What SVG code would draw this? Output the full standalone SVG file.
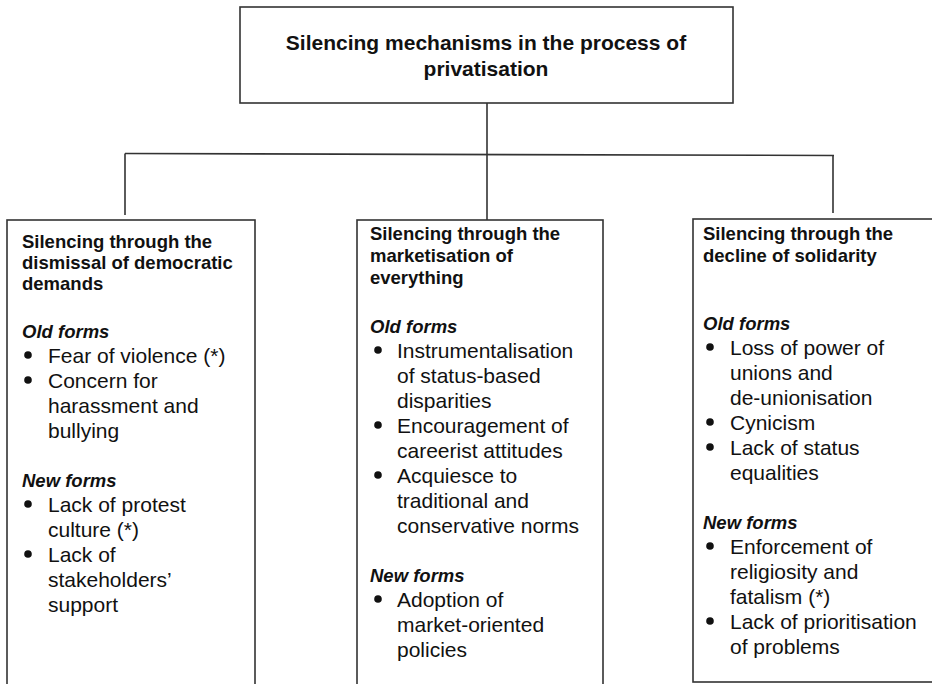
<svg xmlns="http://www.w3.org/2000/svg" width="932" height="684" viewBox="0 0 932 684">
<style>
text{font-family:"Liberation Sans",Arial,sans-serif;fill:#111}
.t{font-size:21px;font-weight:bold}
.h{font-size:18.5px;font-weight:bold}
.f{font-size:18.5px;font-weight:bold;font-style:italic}
.b{font-size:21px}
.box{fill:#fff;stroke:#333;stroke-width:1.6}
.c{fill:none;stroke:#333;stroke-width:1.6}
.d{fill:#111}
</style>
<rect width="932" height="684" fill="#fff"/>
<g id="connectors">
<line class="c" x1="487" y1="103" x2="487" y2="155"/>
<line class="c" x1="125" y1="153.5" x2="834" y2="155.5"/>
<line class="c" x1="125" y1="153.5" x2="125" y2="215"/>
<line class="c" x1="487" y1="155" x2="487" y2="220"/>
<line class="c" x1="833" y1="155.5" x2="833" y2="213"/>
</g>
<g id="root">
<rect class="box" x="240" y="7" width="493" height="96"/>
<text class="t" x="486" y="50" text-anchor="middle">Silencing mechanisms in the process of</text>
<text class="t" x="486" y="76" text-anchor="middle">privatisation</text>
</g>
<g id="democratic">
<rect class="box" x="7" y="220" width="248" height="480"/>
<text class="h" x="22" y="248">Silencing through the</text>
<text class="h" x="22" y="269">dismissal of democratic</text>
<text class="h" x="22" y="290">demands</text>
<text class="f" x="22" y="338">Old forms</text>
<circle class="d" cx="28" cy="355" r="3.8"/>
<text class="b" x="48" y="363">Fear of violence (*)</text>
<circle class="d" cx="28" cy="380" r="3.8"/>
<text class="b" x="48" y="388">Concern for</text>
<text class="b" x="48" y="413">harassment and</text>
<text class="b" x="48" y="438">bullying</text>
<text class="f" x="22" y="487">New forms</text>
<circle class="d" cx="28" cy="504" r="3.8"/>
<text class="b" x="48" y="512">Lack of protest</text>
<text class="b" x="48" y="537">culture (*)</text>
<circle class="d" cx="28" cy="554" r="3.8"/>
<text class="b" x="48" y="562">Lack of</text>
<text class="b" x="48" y="587">stakeholders’</text>
<text class="b" x="48" y="612">support</text>
</g>
<g id="marketisation">
<rect class="box" x="357" y="220" width="246" height="480"/>
<text class="h" x="370" y="240">Silencing through the</text>
<text class="h" x="370" y="262">marketisation of</text>
<text class="h" x="370" y="284">everything</text>
<text class="f" x="370" y="333">Old forms</text>
<circle class="d" cx="378" cy="350" r="3.8"/>
<text class="b" x="397" y="358">Instrumentalisation</text>
<text class="b" x="397" y="383">of status-based</text>
<text class="b" x="397" y="408">disparities</text>
<circle class="d" cx="378" cy="425" r="3.8"/>
<text class="b" x="397" y="433">Encouragement of</text>
<text class="b" x="397" y="458">careerist attitudes</text>
<circle class="d" cx="378" cy="475" r="3.8"/>
<text class="b" x="397" y="483">Acquiesce to</text>
<text class="b" x="397" y="508">traditional and</text>
<text class="b" x="397" y="533">conservative norms</text>
<text class="f" x="370" y="582">New forms</text>
<circle class="d" cx="378" cy="599" r="3.8"/>
<text class="b" x="397" y="607">Adoption of</text>
<text class="b" x="397" y="632">market-oriented</text>
<text class="b" x="397" y="657">policies</text>
</g>
<g id="solidarity">
<rect class="box" x="693" y="219" width="250" height="463"/>
<text class="h" x="703" y="240">Silencing through the</text>
<text class="h" x="703" y="262">decline of solidarity</text>
<text class="f" x="703" y="330">Old forms</text>
<circle class="d" cx="710" cy="347" r="3.8"/>
<text class="b" x="730" y="355">Loss of power of</text>
<text class="b" x="730" y="380">unions and</text>
<text class="b" x="730" y="405">de-unionisation</text>
<circle class="d" cx="710" cy="422" r="3.8"/>
<text class="b" x="730" y="430">Cynicism</text>
<circle class="d" cx="710" cy="447" r="3.8"/>
<text class="b" x="730" y="455">Lack of status</text>
<text class="b" x="730" y="480">equalities</text>
<text class="f" x="703" y="529">New forms</text>
<circle class="d" cx="710" cy="546" r="3.8"/>
<text class="b" x="730" y="554">Enforcement of</text>
<text class="b" x="730" y="579">religiosity and</text>
<text class="b" x="730" y="604">fatalism (*)</text>
<circle class="d" cx="710" cy="621" r="3.8"/>
<text class="b" x="730" y="629">Lack of prioritisation</text>
<text class="b" x="730" y="654">of problems</text>
</g>
</svg>
